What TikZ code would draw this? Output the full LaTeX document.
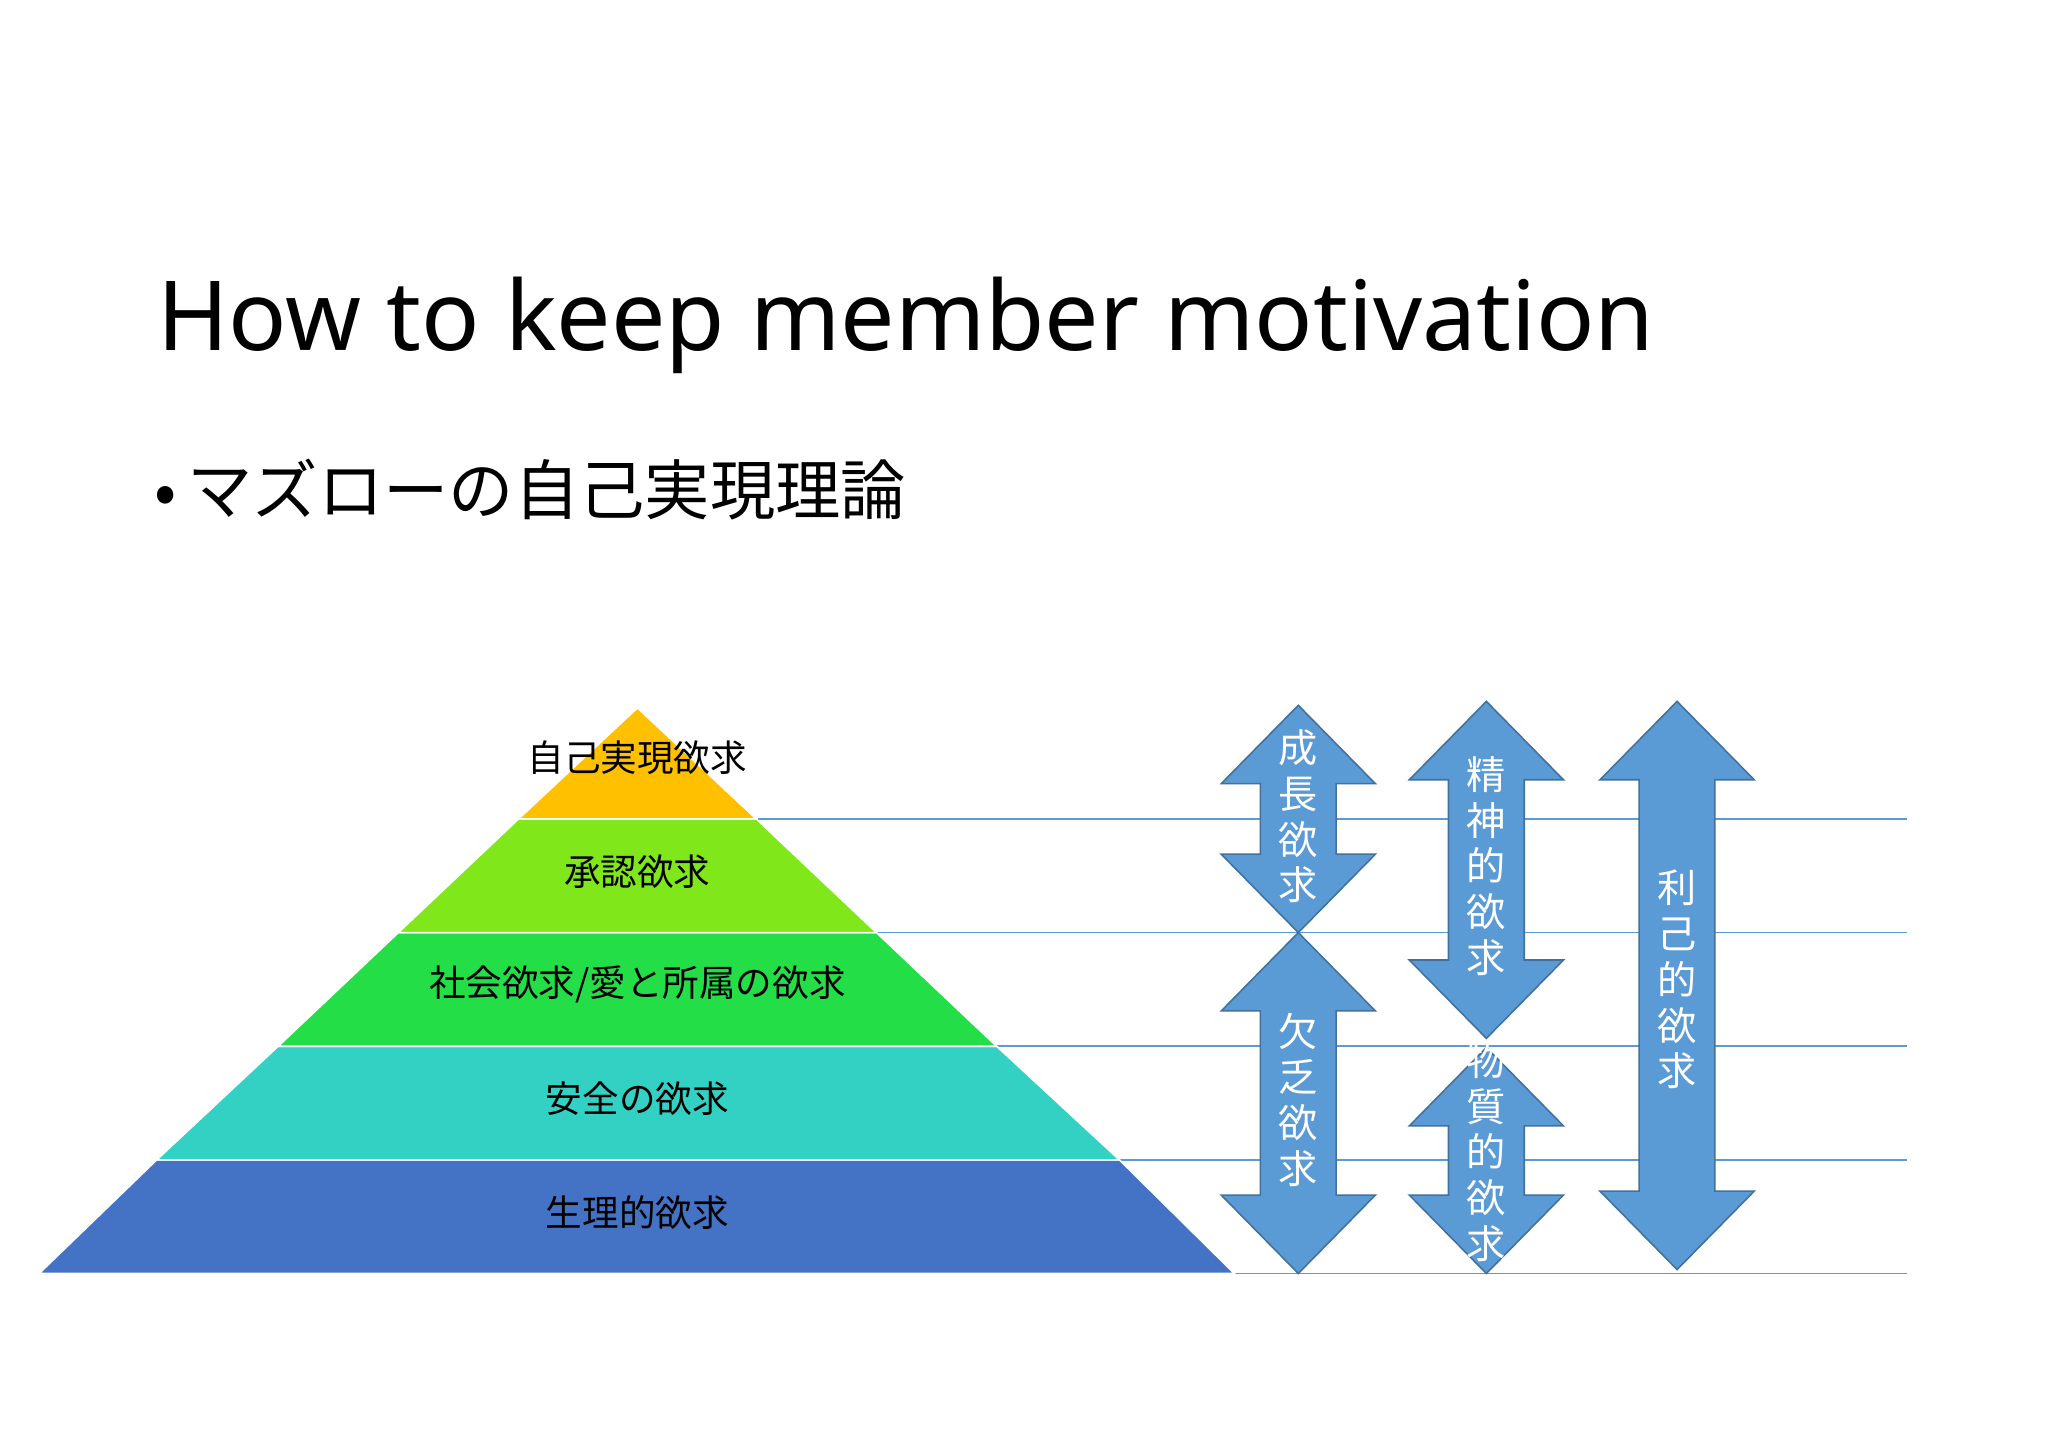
\documentclass[tikz,border=0pt]{standalone}
\usepackage{fontspec}
\setmainfont{Noto Sans}
\newfontfamily\cjk{Noto Sans CJK JP}
\begin{document}
\begin{tikzpicture}[x=0.5pt,y=-0.5pt,
  lvl/.style={draw=white,line width=0.6pt},
  hl/.style={draw=blue!30!cyan!60!black,line width=0.5pt,color={rgb,255:red,91;green,155;blue,213}},
  lab/.style={font=\cjk\fontsize{14}{16}\selectfont,inner sep=0pt},
  vt/.style={font=\cjk\fontsize{15}{17.5}\selectfont,text=white,align=center,inner sep=0pt}]
\definecolor{arr}{RGB}{91,155,213}
\definecolor{arrb}{RGB}{65,113,156}
\useasboundingbox (0,0) rectangle (1568,1108);
\fill[white] (0,0) rectangle (1568,1108);
\node[anchor=base west,inner sep=0pt,font=\fontsize{37}{40}\selectfont] (title) at (120,268) {How to keep member motivation};
\node[anchor=west,inner sep=0pt,font=\cjk\fontsize{25}{28}\selectfont] (bul) at (118,375) {•\,マズローの自己実現理論};
% horizontal lines
\foreach \y/\x in {627/580,714/667,801/754,888/841,975/30}{
  \draw[arr,line width=0.6pt] (\x,\y) -- (1460,\y);}
% pyramid: apex (488,542), base 30..945 at 975
\def\L#1{(488-458*(#1-542)/433)}
\fill[lvl,fill={rgb,255:red,68;green,114;blue,196}] (30,975) -- (945,975) -- (857,888) -- (120,888) -- cycle;
\fill[lvl,fill={rgb,255:red,51;green,209;blue,196}] (120,888) -- (857,888) -- (763,801) -- (213,801) -- cycle;
\fill[lvl,fill={rgb,255:red,36;green,222;blue,72}] (213,801) -- (763,801) -- (671,714) -- (305,714) -- cycle;
\fill[lvl,fill={rgb,255:red,128;green,232;blue,26}] (305,714) -- (671,714) -- (579,627) -- (397,627) -- cycle;
\fill[lvl,fill={rgb,255:red,255;green,192;blue,0}] (397,627) -- (579,627) -- (488,542) -- cycle;
\node[lab] (p1) at (488,580) {自己実現欲求};
\node[lab] (p2) at (488,667) {承認欲求};
\node[lab] (p3) at (488,754) {社会欲求/愛と所属の欲求};
\node[lab] (p4) at (488,841) {安全の欲求};
\node[lab] (p5) at (488,928) {生理的欲求};
% double arrows
\newcommand\dbl[3]{%
 \filldraw[fill=arr,draw=arrb,line width=0.6pt] (#1,#2) -- (#1+59,#2+60) -- (#1+29,#2+60) -- (#1+29,#3-60) -- (#1+59,#3-60) -- (#1,#3) -- (#1-59,#3-60) -- (#1-29,#3-60) -- (#1-29,#2+60) -- (#1-59,#2+60) -- cycle;}
\dbl{994}{540}{714}
\dbl{994}{714}{975}
\dbl{1138}{537}{795}
\dbl{1138}{802}{975}
\dbl{1284}{537}{972}
\node[vt] (a1) at (994,625) {成\\長\\欲\\求};
\node[vt] (a2) at (994,842) {欠\\乏\\欲\\求};
\node[vt] (a3) at (1138,663) {精\\神\\的\\欲\\求};
\node[vt] (a4) at (1138,882) {物\\質\\的\\欲\\求};
\node[vt] (a5) at (1284,750) {利\\己\\的\\欲\\求};
\end{tikzpicture}
\end{document}
